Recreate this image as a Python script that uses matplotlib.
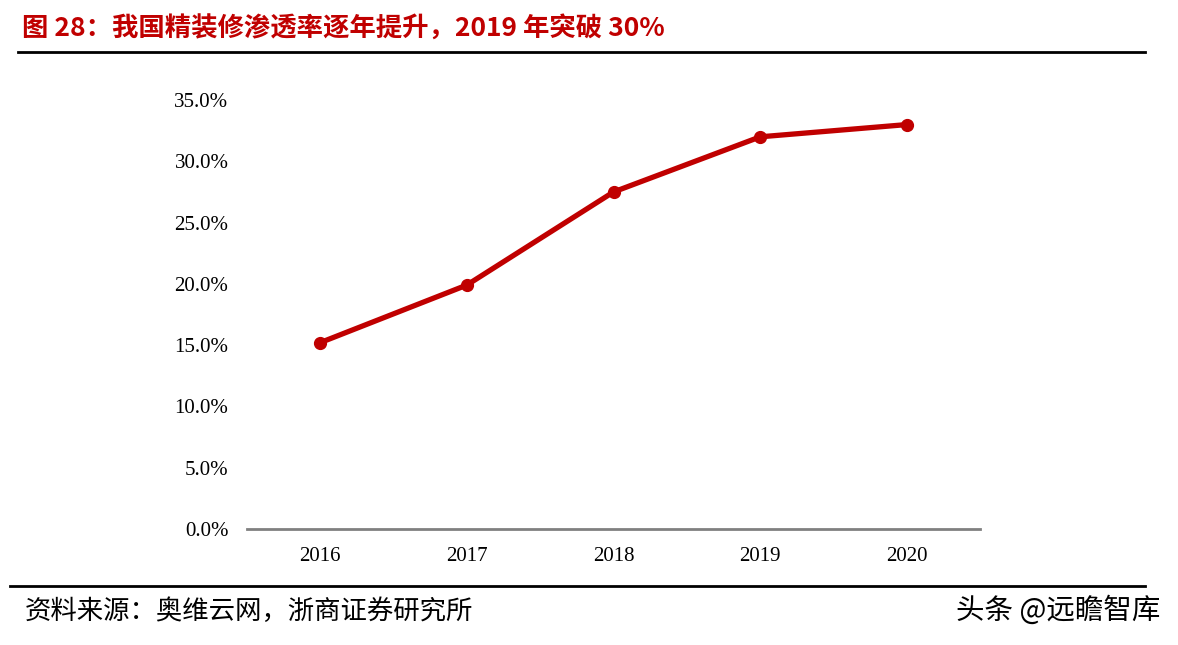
import matplotlib.pyplot as plt
from matplotlib.lines import Line2D

years = ['2016', '2017', '2018', '2019', '2020']
penetration = [15.2, 19.9, 27.5, 32.0, 33.0]
yticks = [0, 5, 10, 15, 20, 25, 30, 35]

title = '图 28：我国精装修渗透率逐年提升，2019 年突破 30%'
source = '资料来源：奥维云网，浙商证券研究所'
watermark = '头条 @远瞻智库'

red = '#C00000'
cjk = ['Noto Sans CJK SC', 'DejaVu Sans']

fig = plt.figure(figsize=(11.78, 6.45), dpi=100)
ax = fig.add_axes([0.2093, 0.1798, 0.6230, 0.6651])

x = range(len(years))
ax.plot(x, penetration, color=red, linewidth=3.8, marker='o', markersize=8.5, zorder=3)

ax.set_xlim(-0.5, len(years) - 0.5)
ax.set_ylim(0, 35)
ax.set_yticks(yticks)
ax.set_yticklabels([f'{v:.1f}%' for v in yticks], fontfamily='Liberation Serif', fontsize=15)
ax.set_xticks(list(x))
ax.set_xticklabels(years, fontfamily='Liberation Serif', fontsize=15)
ax.tick_params(length=0, pad=13)
ax.tick_params(axis='y', pad=13)

for side in ['top', 'right', 'left']:
    ax.spines[side].set_visible(False)
ax.spines['bottom'].set_color('#808080')
ax.spines['bottom'].set_linewidth(2)

fig.text(22 / 1178, 1 - 29 / 645, title, color=red, fontsize=19, fontweight='bold',
         family=cjk, va='center', ha='left')
fig.add_artist(Line2D([18 / 1178, 1145 / 1178], [1 - 52 / 645] * 2, color='black', linewidth=2))
fig.add_artist(Line2D([10 / 1178, 1145 / 1178], [1 - 586 / 645] * 2, color='black', linewidth=2))

fig.text(25 / 1178, 1 - 611 / 645, source, color='black', fontsize=19,
         family=cjk, va='center', ha='left')
fig.text(1160 / 1178, 1 - 611 / 645, watermark, color='black', fontsize=20.5,
         family=cjk, va='center', ha='right')

fig.savefig('out.png', dpi=100)
